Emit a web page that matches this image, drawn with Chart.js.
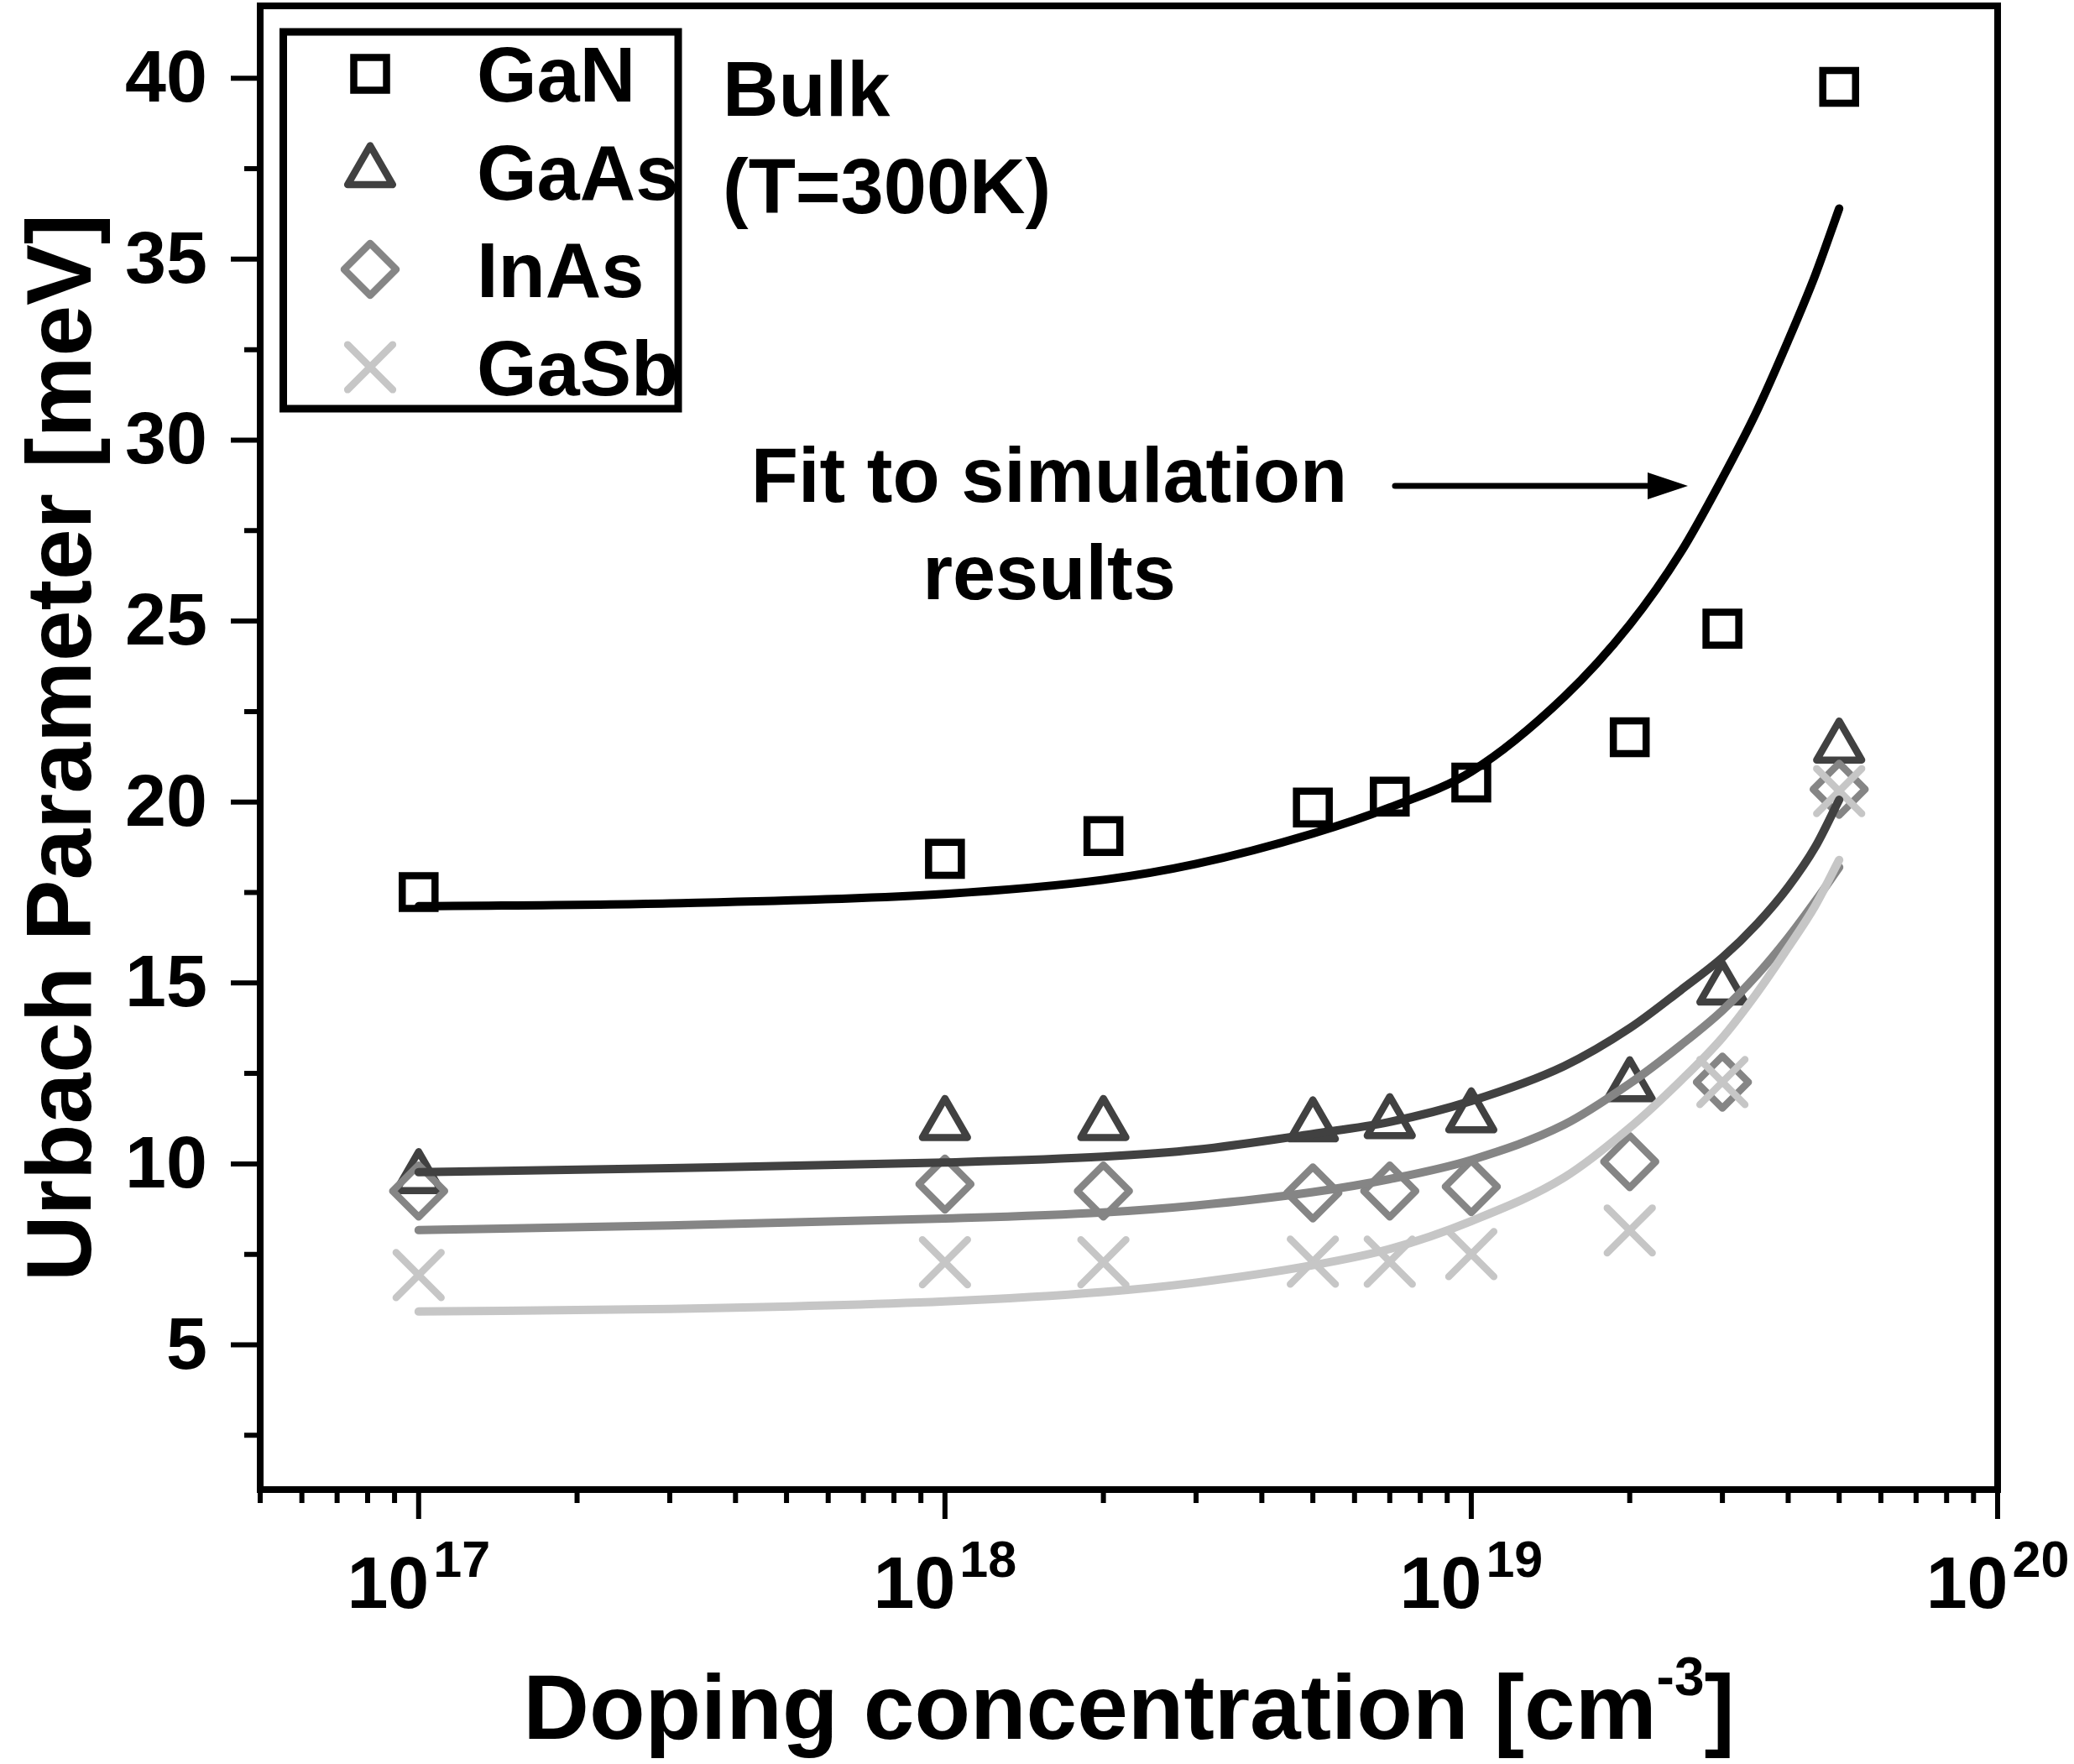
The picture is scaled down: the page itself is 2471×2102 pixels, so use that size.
<!DOCTYPE html>
<html><head><meta charset="utf-8">
<script src="https://cdn.jsdelivr.net/npm/chart.js@4.4.0/dist/chart.umd.min.js"></script>
<style>html,body{margin:0;padding:0;background:#fff;overflow:hidden;} canvas{display:block;}</style>
</head><body>
<canvas id="c" width="2471" height="2102" style="width:2471px;height:2102px"></canvas>
<script>
// ---------- data ----------
const seriesNames  = ['GaN', 'GaAs', 'InAs', 'GaSb'];
const seriesColors = ['#000000', '#414141', '#858585', '#c6c6c6'];
const seriesStyles = ['rect', 'triangle', 'rectRot', 'crossRot'];

const dopingPoints = [1e17, 1e18, 2e18, 5e18, 7e18, 1e19, 2e19, 3e19, 5e19];
const ganData  = [17.51, 18.43, 19.06, 19.85, 20.15, 20.54, 21.79, 24.79, 39.76];
const gaasData = [9.62, 11.09, 11.09, 11.05, 11.14, 11.30, 12.16, 14.83, 21.52];
const inasData = [9.25, 9.44, 9.25, 9.20, 9.25, 9.37, 10.06, 12.26, 20.35];
const gasbData = [6.93, 7.28, 7.28, 7.30, 7.30, 7.51, 8.16, 12.26, 20.30];

const fitDoping = [1e17, 3e17, 1e18, 2e18, 3e18, 5e18, 7e18, 1e19, 1.5e19, 2e19, 2.5e19, 3e19, 3.5e19, 4e19, 4.5e19, 5e19];
const ganFit  = [17.12, 17.20, 17.46, 17.85, 18.29, 19.13, 19.85, 20.84, 22.90, 24.90, 26.90, 28.95, 30.85, 32.75, 34.55, 36.40];
const gaasFit = [9.77, 9.88, 10.04, 10.20, 10.39, 10.83, 11.16, 11.74, 12.70, 13.75, 14.80, 15.70, 16.65, 17.65, 18.75, 20.06];
const inasFit = [8.17, 8.30, 8.49, 8.66, 8.85, 9.22, 9.58, 10.11, 11.08, 12.22, 13.28, 14.24, 15.24, 16.25, 17.25, 18.20];
const gasbFit = [5.92, 5.99, 6.20, 6.46, 6.72, 7.20, 7.65, 8.42, 9.62, 11.00, 12.30, 13.49, 14.75, 15.98, 17.13, 18.40];

const xMajorTicks = [1e17, 1e18, 1e19, 1e20];
const xTickBase = '10';
const xTickExponents = ['17', '18', '19', '20'];
const xMinorTicks = [5e16, 6e16, 7e16, 8e16, 9e16,
  2e17, 3e17, 4e17, 5e17, 6e17, 7e17, 8e17, 9e17,
  2e18, 3e18, 4e18, 5e18, 6e18, 7e18, 8e18, 9e18,
  2e19, 3e19, 4e19, 5e19, 6e19, 7e19, 8e19, 9e19];
const yMajorTicks = [5, 10, 15, 20, 25, 30, 35, 40];
const yMinorTicks = [2.5, 7.5, 12.5, 17.5, 22.5, 27.5, 32.5, 37.5];

const xTitle = 'Doping concentration [cm';
const xTitleSup = '-3';
const xTitleEnd = ']';
const yTitle = 'Urbach Parameter [meV]';
const annoBulk = ['Bulk', '(T=300K)'];
const annoFit = ['Fit to simulation', 'results'];

// ---------- styling ----------
const FONT = '"Liberation Sans", Arial, Helvetica, sans-serif';
const markerRadius = {rect: 27.6, triangle: 31, rectRot: 31, crossRot: 38};
const markerWidth = 8.5;

const measured = [ganData, gaasData, inasData, gasbData];
const fits = [ganFit, gaasFit, inasFit, gasbFit];

const datasets = [];
seriesNames.forEach((name, i) => {
  datasets.push({
    label: name,
    type: 'scatter',
    data: dopingPoints.map((x, k) => ({x: x, y: measured[i][k]})),
    showLine: false,
    pointStyle: seriesStyles[i],
    pointRadius: markerRadius[seriesStyles[i]],
    pointBorderWidth: markerWidth,
    pointBorderColor: seriesColors[i],
    pointBackgroundColor: 'rgba(0,0,0,0)',
    order: 20 - i,
    isMarker: true
  });
});
seriesNames.forEach((name, i) => {
  datasets.push({
    label: name + ' fit',
    type: 'line',
    data: fitDoping.map((x, k) => ({x: x, y: fits[i][k]})),
    borderColor: seriesColors[i],
    borderWidth: 10,
    borderCapStyle: 'round',
    borderJoinStyle: 'round',
    pointRadius: 0,
    fill: false,
    cubicInterpolationMode: 'monotone',
    order: 10 - i
  });
});

function drawMarker(ctx, style, x, y) {
  const H = (window.Chart && Chart.helpers && Chart.helpers.drawPoint) ? Chart.helpers.drawPoint : null;
  const r = markerRadius[style];
  if (H) {
    H(ctx, {pointStyle: style, radius: r, rotation: 0, borderWidth: markerWidth}, x, y);
    return;
  }
  ctx.beginPath();
  if (style === 'rect') { const s = r * Math.SQRT1_2; ctx.rect(x - s, y - s, 2 * s, 2 * s); }
  else if (style === 'triangle') { ctx.moveTo(x, y - r); ctx.lineTo(x + 0.866 * r, y + 0.5 * r); ctx.lineTo(x - 0.866 * r, y + 0.5 * r); ctx.closePath(); }
  else if (style === 'rectRot') { ctx.moveTo(x, y - r); ctx.lineTo(x + r, y); ctx.lineTo(x, y + r); ctx.lineTo(x - r, y); ctx.closePath(); }
  else { const s = r * Math.SQRT1_2; ctx.moveTo(x - s, y - s); ctx.lineTo(x + s, y + s); ctx.moveTo(x + s, y - s); ctx.lineTo(x - s, y + s); }
  ctx.stroke();
}

const decorPlugin = {
  id: 'decor',
  beforeDatasetDraw(chart, args) {
    const ds = chart.data.datasets[args.index];
    if (ds.isMarker) {
      chart.ctx.lineCap = 'round';
      chart.ctx.lineJoin = ds.pointStyle === 'rect' ? 'miter' : 'round';
    }
  },
  afterDatasetDraw(chart) {
    chart.ctx.lineCap = 'butt';
    chart.ctx.lineJoin = 'miter';
  },
  afterDraw(chart) {
    const ctx = chart.ctx;
    const a = chart.chartArea;
    const xs = chart.scales.x, ys = chart.scales.y;
    ctx.save();
    ctx.fillStyle = '#000';
    ctx.strokeStyle = '#000';
    // frame
    ctx.lineWidth = 8;
    ctx.lineJoin = 'miter';
    ctx.strokeRect(a.left, a.top, a.right - a.left, a.bottom - a.top);
    // ticks
    ctx.lineWidth = 6;
    ctx.lineCap = 'butt';
    ctx.beginPath();
    yMajorTicks.forEach(v => { const y = ys.getPixelForValue(v); ctx.moveTo(a.left, y); ctx.lineTo(a.left - 35, y); });
    yMinorTicks.forEach(v => { const y = ys.getPixelForValue(v); ctx.moveTo(a.left, y); ctx.lineTo(a.left - 19, y); });
    xMajorTicks.forEach(v => { const x = xs.getPixelForValue(v); ctx.moveTo(x, a.bottom); ctx.lineTo(x, a.bottom + 35); });
    xMinorTicks.forEach(v => { const x = xs.getPixelForValue(v); ctx.moveTo(x, a.bottom); ctx.lineTo(x, a.bottom + 16); });
    ctx.stroke();
    // y tick labels
    ctx.font = 'bold 88px ' + FONT;
    ctx.textAlign = 'right';
    ctx.textBaseline = 'alphabetic';
    yMajorTicks.forEach(v => { const y = ys.getPixelForValue(v); ctx.fillText(String(v), a.left - 63, y + 28); });
    // x tick labels with superscripts
    xMajorTicks.forEach((v, i) => {
      const x = xs.getPixelForValue(v);
      ctx.font = 'bold 88px ' + FONT;
      const w1 = ctx.measureText(xTickBase).width;
      ctx.font = 'bold 61px ' + FONT;
      const w2 = ctx.measureText(xTickExponents[i]).width;
      const gap = 5;
      const start = x - (w1 + gap + w2) / 2;
      ctx.textAlign = 'left';
      ctx.font = 'bold 88px ' + FONT;
      ctx.fillText(xTickBase, start, a.bottom + 141);
      ctx.font = 'bold 61px ' + FONT;
      ctx.fillText(xTickExponents[i], start + w1 + gap, a.bottom + 104);
    });
    // x title
    ctx.font = 'bold 109px ' + FONT;
    const t1 = ctx.measureText(xTitle).width;
    const t3 = ctx.measureText(xTitleEnd).width;
    ctx.font = 'bold 64px ' + FONT;
    const t2 = ctx.measureText(xTitleSup).width;
    const cx = (a.left + a.right) / 2;
    const sx = cx - (t1 + t2 + t3) / 2;
    ctx.textAlign = 'left';
    ctx.font = 'bold 109px ' + FONT;
    ctx.fillText(xTitle, sx, 2072);
    ctx.font = 'bold 64px ' + FONT;
    ctx.fillText(xTitleSup, sx + t1, 2020);
    ctx.font = 'bold 109px ' + FONT;
    ctx.fillText(xTitleEnd, sx + t1 + t2, 2072);
    // y title
    ctx.save();
    ctx.translate(108, (a.top + a.bottom) / 2);
    ctx.rotate(-Math.PI / 2);
    ctx.textAlign = 'center';
    ctx.font = 'bold 109px ' + FONT;
    ctx.fillText(yTitle, 0, 0);
    ctx.restore();
    // legend
    ctx.lineWidth = 9;
    ctx.strokeStyle = '#000';
    ctx.strokeRect(337.5, 38, 808 - 337.5, 487 - 38);
    seriesNames.forEach((name, i) => {
      const rowY = 88 + i * 116.5;
      ctx.strokeStyle = seriesColors[i];
      ctx.fillStyle = 'rgba(0,0,0,0)';
      ctx.lineWidth = markerWidth;
      ctx.lineCap = 'round';
      ctx.lineJoin = seriesStyles[i] === 'rect' ? 'miter' : 'round';
      drawMarker(ctx, seriesStyles[i], 441, rowY);
      ctx.fillStyle = '#000';
      ctx.font = 'bold 92px ' + FONT;
      ctx.textAlign = 'left';
      ctx.fillText(name, 568, rowY + 33);
    });
    // annotations
    ctx.fillStyle = '#000';
    ctx.font = 'bold 92px ' + FONT;
    ctx.textAlign = 'left';
    ctx.fillText(annoBulk[0], 861, 138);
    ctx.fillText(annoBulk[1], 861, 254);
    ctx.textAlign = 'center';
    ctx.fillText(annoFit[0], 1250, 598);
    ctx.fillText(annoFit[1], 1250, 714);
    // arrow
    ctx.strokeStyle = '#000';
    ctx.lineWidth = 7;
    ctx.lineCap = 'round';
    ctx.beginPath();
    ctx.moveTo(1662, 579);
    ctx.lineTo(1975, 579);
    ctx.stroke();
    ctx.beginPath();
    ctx.moveTo(2011, 579);
    ctx.lineTo(1963, 563);
    ctx.lineTo(1963, 595);
    ctx.closePath();
    ctx.fill();
    ctx.restore();
  }
};

new Chart(document.getElementById('c'), {
  type: 'scatter',
  data: {datasets: datasets},
  options: {
    responsive: false,
    devicePixelRatio: 1,
    animation: false,
    events: [],
    layout: {autoPadding: false, padding: {left: 310, right: 91, top: 7, bottom: 327}},
    plugins: {legend: {display: false}, tooltip: {enabled: false}},
    scales: {
      x: {type: 'logarithmic', min: 5e16, max: 1e20, display: false},
      y: {type: 'linear', min: 1, max: 42, display: false}
    }
  },
  plugins: [decorPlugin]
});
</script>
</body></html>
